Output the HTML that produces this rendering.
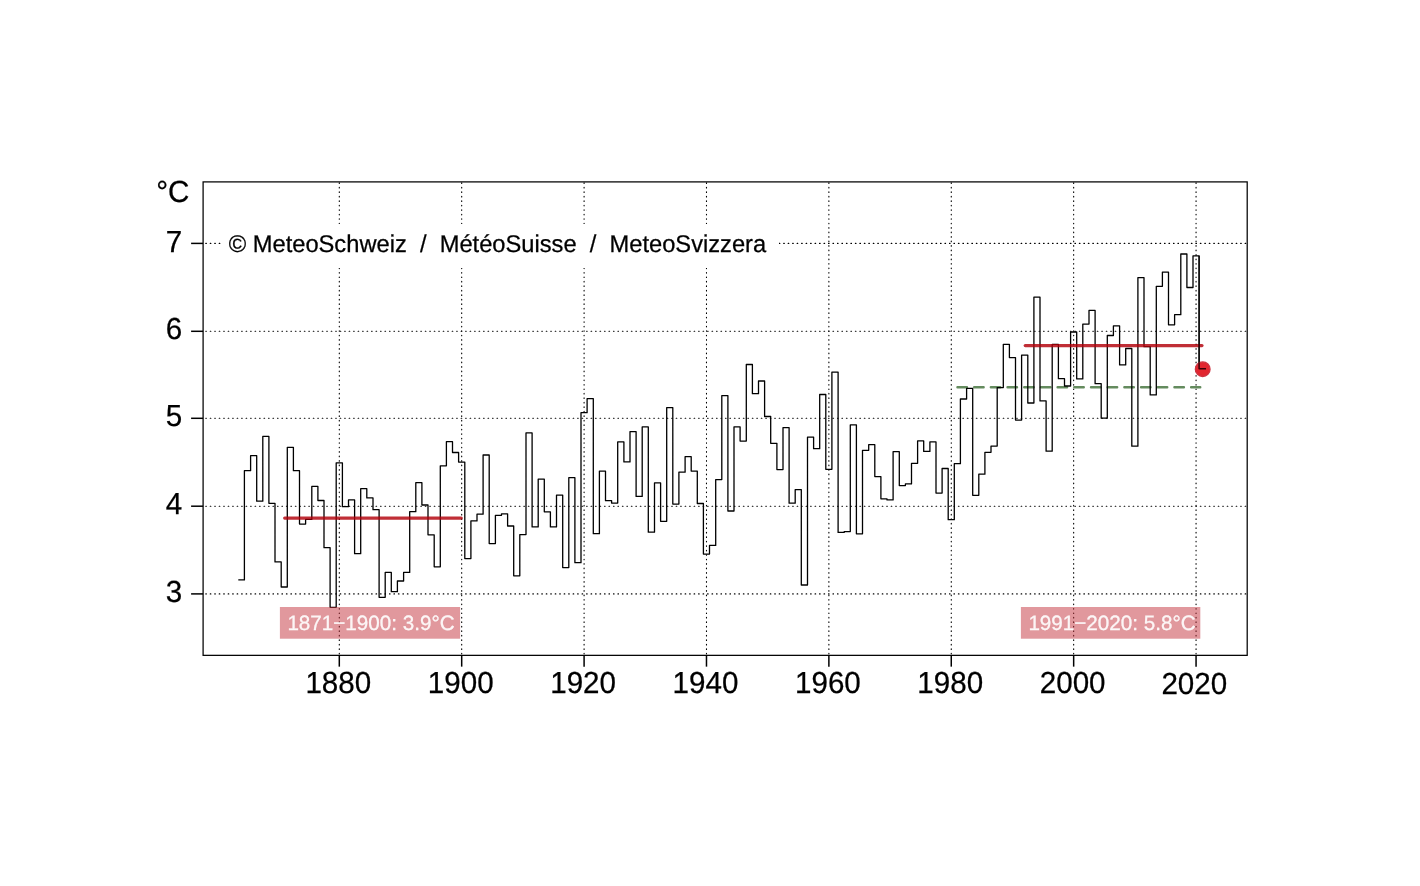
<!DOCTYPE html>
<html><head><meta charset="utf-8"><title>Temperatur Schweiz 1864-2021</title>
<style>
html,body{margin:0;padding:0;background:#fff;}
body{width:1420px;height:886px;overflow:hidden;font-family:"Liberation Sans",sans-serif;}
svg{display:block;will-change:transform;transform:translateZ(0);}
svg text{font-family:"Liberation Sans",sans-serif;fill:#000;white-space:pre;text-rendering:geometricPrecision;stroke:#000;stroke-width:0.25;}
.grid line.h{stroke-dashoffset:1.8;}
.grid line{stroke:#000;stroke-width:1.12;stroke-dasharray:0.6 3.88;stroke-linecap:round;stroke-dashoffset:3.0;}
.ticks line{stroke:#000;stroke-width:1.5;}
</style></head>
<body>
<svg width="1420" height="886" viewBox="0 0 1420 886">
<rect width="1420" height="886" fill="#fff"/>
<g class="grid">
<line x1="339.30" y1="655.35" x2="339.30" y2="181.9"/>
<line x1="461.69" y1="655.35" x2="461.69" y2="181.9"/>
<line x1="584.09" y1="655.35" x2="584.09" y2="181.9"/>
<line x1="706.48" y1="655.35" x2="706.48" y2="181.9"/>
<line x1="828.88" y1="655.35" x2="828.88" y2="181.9"/>
<line x1="951.27" y1="655.35" x2="951.27" y2="181.9"/>
<line x1="1073.66" y1="655.35" x2="1073.66" y2="181.9"/>
<line x1="1196.06" y1="655.35" x2="1196.06" y2="181.9"/>
<line class="h" x1="203.1" y1="243.4" x2="1247.2" y2="243.4"/>
<line class="h" x1="203.1" y1="331.3" x2="1247.2" y2="331.3"/>
<line class="h" x1="203.1" y1="418.3" x2="1247.2" y2="418.3"/>
<line class="h" x1="203.1" y1="506.2" x2="1247.2" y2="506.2"/>
<line class="h" x1="203.1" y1="593.9" x2="1247.2" y2="593.9"/>
</g>
<rect x="221" y="224" width="558" height="44" fill="#fff"/>
<text transform="translate(228.70 251.70) scale(1 1.02)" font-size="23.7px" text-anchor="start" xml:space="preserve">© MeteoSchweiz  /  MétéoSuisse  /  MeteoSvizzera</text>
<rect x="203.1" y="181.9" width="1044.10" height="473.45" fill="none" stroke="#000" stroke-width="1.25"/>
<g class="ticks">
<line x1="339.30" y1="655.35" x2="339.30" y2="666.65"/>
<line x1="461.69" y1="655.35" x2="461.69" y2="666.65"/>
<line x1="584.09" y1="655.35" x2="584.09" y2="666.65"/>
<line x1="706.48" y1="655.35" x2="706.48" y2="666.65"/>
<line x1="828.88" y1="655.35" x2="828.88" y2="666.65"/>
<line x1="951.27" y1="655.35" x2="951.27" y2="666.65"/>
<line x1="1073.66" y1="655.35" x2="1073.66" y2="666.65"/>
<line x1="1196.06" y1="655.35" x2="1196.06" y2="666.65"/>
<line x1="191.1" y1="243.4" x2="203.1" y2="243.4"/>
<line x1="191.1" y1="331.3" x2="203.1" y2="331.3"/>
<line x1="191.1" y1="418.3" x2="203.1" y2="418.3"/>
<line x1="191.1" y1="506.2" x2="203.1" y2="506.2"/>
<line x1="191.1" y1="593.9" x2="203.1" y2="593.9"/>
</g>
<g class="ax">
<text transform="translate(338.30 692.90) scale(1 1.03)" font-size="29.6px" text-anchor="middle" >1880</text>
<text transform="translate(460.69 692.90) scale(1 1.03)" font-size="29.6px" text-anchor="middle" >1900</text>
<text transform="translate(583.09 692.90) scale(1 1.03)" font-size="29.6px" text-anchor="middle" >1920</text>
<text transform="translate(705.48 692.90) scale(1 1.03)" font-size="29.6px" text-anchor="middle" >1940</text>
<text transform="translate(827.88 692.90) scale(1 1.03)" font-size="29.6px" text-anchor="middle" >1960</text>
<text transform="translate(950.27 692.90) scale(1 1.03)" font-size="29.6px" text-anchor="middle" >1980</text>
<text transform="translate(1072.66 692.90) scale(1 1.03)" font-size="29.6px" text-anchor="middle" >2000</text>
<text transform="translate(1194.30 693.60) scale(1 1.03)" font-size="29.6px" text-anchor="middle" >2020</text>
<text transform="translate(182.20 251.55) scale(1 1.03)" font-size="29.6px" text-anchor="end" >7</text>
<text transform="translate(182.20 339.45) scale(1 1.03)" font-size="29.6px" text-anchor="end" >6</text>
<text transform="translate(182.20 426.45) scale(1 1.03)" font-size="29.6px" text-anchor="end" >5</text>
<text transform="translate(182.20 514.35) scale(1 1.03)" font-size="29.6px" text-anchor="end" >4</text>
<text transform="translate(182.20 602.05) scale(1 1.03)" font-size="29.6px" text-anchor="end" >3</text>
<text transform="translate(156.20 201.80) scale(1 1.03)" font-size="29.6px" text-anchor="start" >°C</text>
</g>
<line x1="957.5" y1="387.3" x2="1200.2" y2="387.3" stroke="#648b5e" stroke-width="2.5" stroke-dasharray="9.4 7.29" stroke-linecap="round"/>
<path d="M238.3 579.9 H244.4 V470.7 H250.6 V455.7 H256.7 V501.2 H262.8 V436.4 H268.9 V503.3 H275.0 V561.9 H281.2 V587.0 H287.3 V447.3 H293.4 V470.7 H299.5 V524.1 H305.6 V519.4 H311.8 V486.4 H317.9 V500.5 H324.0 V547.7 H330.1 V607.3 H336.2 V462.8 H342.4 V506.7 H348.5 V499.9 H354.6 V553.7 H360.7 V488.7 H366.8 V497.9 H373.0 V509.7 H379.1 V597.3 H385.2 V572.4 H391.3 V591.7 H397.4 V581.0 H403.6 V572.4 H409.7 V511.7 H415.8 V482.7 H421.9 V505.0 H428.0 V534.8 H434.2 V566.8 H440.3 V465.8 H446.4 V441.7 H452.5 V452.5 H458.6 V462.1 H464.8 V558.6 H470.9 V520.9 H477.0 V514.2 H483.1 V455.0 H489.2 V543.6 H495.4 V515.3 H501.5 V513.8 H507.6 V526.0 H513.7 V575.8 H519.8 V534.6 H526.0 V432.9 H532.1 V526.9 H538.2 V479.2 H544.3 V511.8 H550.4 V526.9 H556.5 V495.1 H562.7 V567.6 H568.8 V477.7 H574.9 V562.7 H581.0 V412.7 H587.1 V398.6 H593.3 V533.7 H599.4 V471.1 H605.5 V500.7 H611.6 V503.1 H617.7 V441.9 H623.9 V461.9 H630.0 V431.6 H636.1 V496.4 H642.2 V426.9 H648.3 V532.2 H654.5 V482.9 H660.6 V521.3 H666.7 V407.6 H672.8 V504.1 H678.9 V472.2 H685.1 V456.7 H691.2 V471.1 H697.3 V503.5 H703.4 V554.1 H709.5 V545.4 H715.7 V479.6 H721.8 V395.6 H727.9 V511.0 H734.0 V426.8 H740.1 V441.1 H746.3 V364.5 H752.4 V393.7 H758.5 V381.0 H764.6 V416.5 H770.7 V443.3 H776.9 V469.6 H783.0 V427.6 H789.1 V503.2 H795.2 V489.6 H801.3 V585.0 H807.5 V437.1 H813.6 V448.7 H819.7 V394.5 H825.8 V469.3 H831.9 V372.1 H838.1 V532.4 H844.2 V531.6 H850.3 V424.9 H856.4 V533.8 H862.5 V450.3 H868.7 V444.7 H874.8 V476.6 H880.9 V498.8 H887.0 V499.9 H893.1 V451.7 H899.3 V485.6 H905.4 V483.9 H911.5 V463.3 H917.6 V440.9 H923.7 V451.4 H929.9 V441.9 H936.0 V493.1 H942.1 V468.5 H948.2 V519.7 H954.3 V463.7 H960.4 V399.0 H966.6 V388.4 H972.7 V495.3 H978.8 V474.2 H984.9 V452.3 H991.0 V446.1 H997.2 V387.6 H1003.3 V344.3 H1009.4 V357.6 H1015.5 V420.1 H1021.6 V355.1 H1027.8 V403.0 H1033.9 V297.2 H1040.0 V400.9 H1046.1 V451.2 H1052.2 V344.3 H1058.4 V378.7 H1064.5 V386.0 H1070.6 V332.0 H1076.7 V378.9 H1082.8 V324.1 H1089.0 V310.4 H1095.1 V383.7 H1101.2 V418.2 H1107.3 V335.5 H1113.4 V325.9 H1119.6 V364.9 H1125.7 V348.5 H1131.8 V446.2 H1137.9 V277.6 H1144.0 V346.7 H1150.2 V394.9 H1156.3 V286.3 H1162.4 V272.1 H1168.5 V324.8 H1174.6 V314.7 H1180.8 V254.0 H1186.9 V287.5 H1193.0 V255.8 H1199.1 V368.8 H1205.2" fill="none" stroke="#000" stroke-width="1.3" stroke-linejoin="round"/>
<line x1="284.6" y1="518.1" x2="461.3" y2="518.1" stroke="#b2000a" stroke-opacity="0.82" stroke-width="3.1" stroke-linecap="round"/>
<line x1="1025.2" y1="345.6" x2="1202.0" y2="345.6" stroke="#b2000a" stroke-opacity="0.82" stroke-width="3.1" stroke-linecap="round"/>
<circle cx="1202.7" cy="369.2" r="7.3" fill="#e2262f" stroke="#cf3340" stroke-width="1.4"/>
<path d="M1199.1 255.8V362.3" stroke="#000" stroke-width="1.3" fill="none" opacity="0.9"/>
<path d="M1199.1 362.3V368.8H1206.0" stroke="#3a0006" stroke-width="1.5" fill="none" stroke-linejoin="round"/>
<rect x="279.9" y="607.0" width="180.2" height="31.7" fill="#c3313b" fill-opacity="0.5"/>
<rect x="1020.9" y="607.0" width="179.4" height="31.7" fill="#c3313b" fill-opacity="0.5"/>
<text transform="translate(371.00 630.10) scale(1 1.005)" font-size="20.65px" text-anchor="middle" style="fill:#fff;fill-opacity:0.9;stroke:#fff;stroke-opacity:0.9;stroke-width:0.3">1871−1900: 3.9°C</text>
<text transform="translate(1112.00 630.10) scale(1 1.005)" font-size="20.65px" text-anchor="middle" style="fill:#fff;fill-opacity:0.9;stroke:#fff;stroke-opacity:0.9;stroke-width:0.3">1991−2020: 5.8°C</text>
</svg>
</body></html>
